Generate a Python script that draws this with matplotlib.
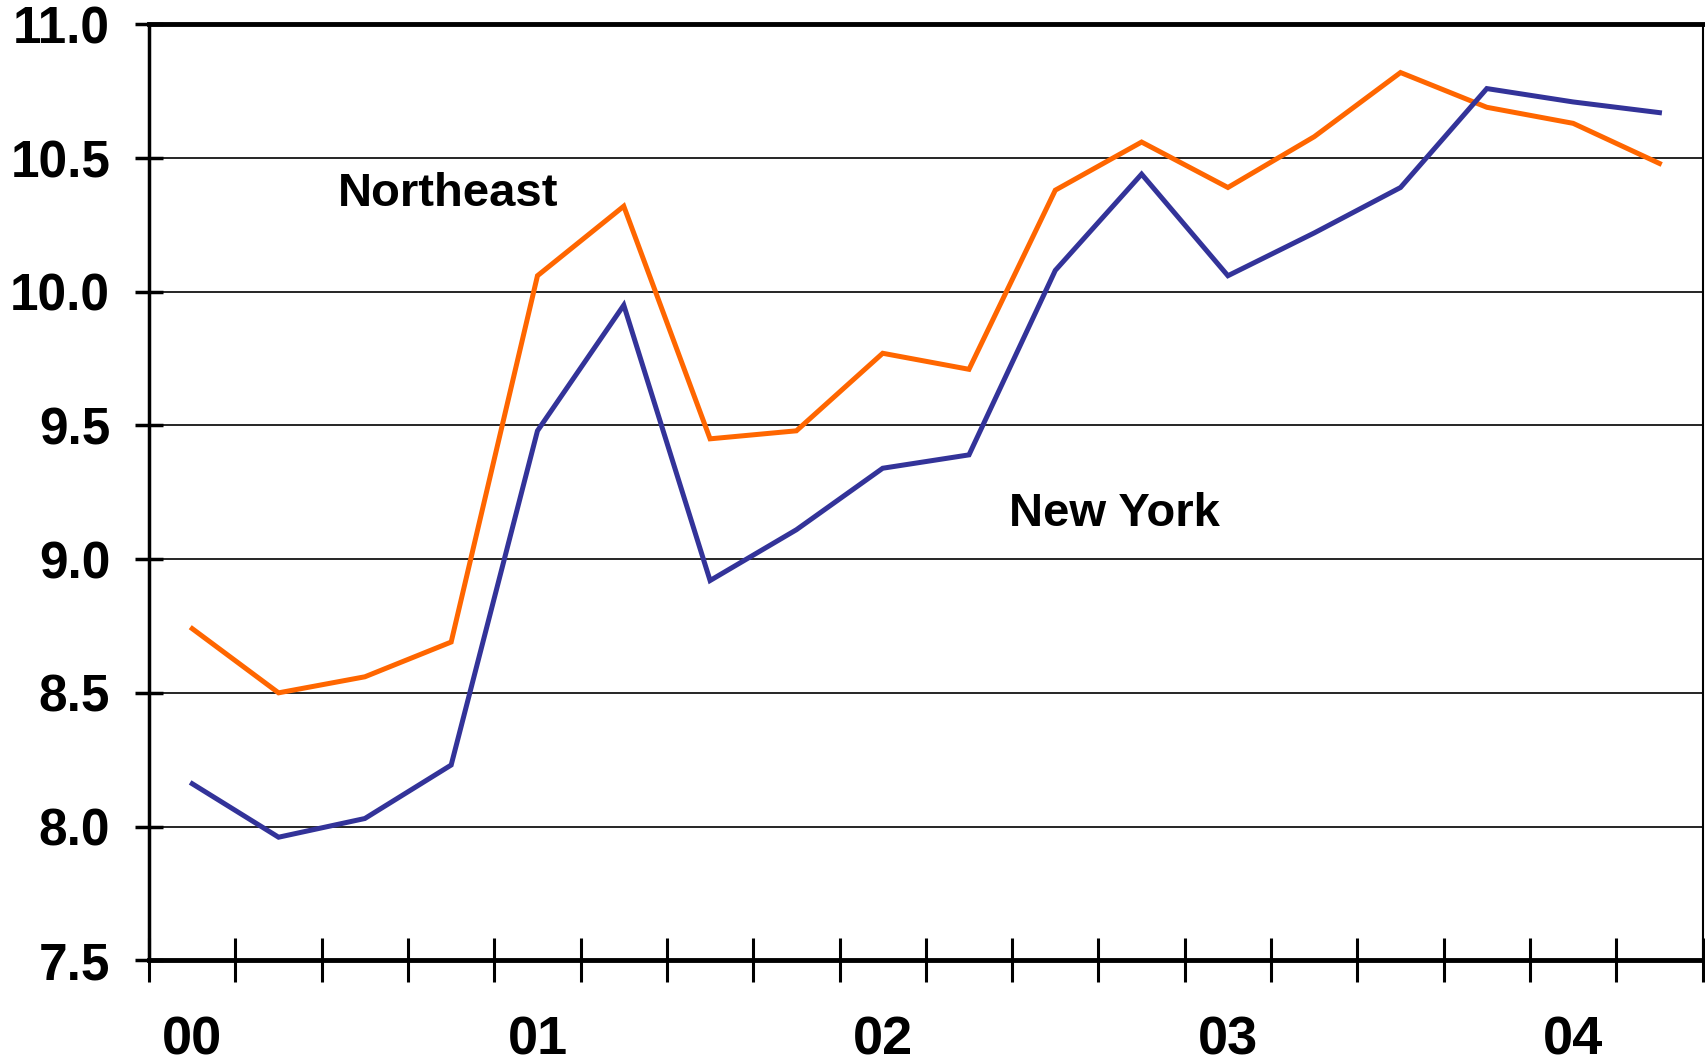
import matplotlib
matplotlib.use("Agg")
import matplotlib.pyplot as plt
import numpy as np

plt.rcParams['font.family'] = ['Liberation Sans', 'DejaVu Sans']
plt.rcParams['font.weight'] = 'bold'

# quarterly values, 2000Q1 .. 2004Q2
quarters = np.arange(18)
northeast = [8.74, 8.50, 8.56, 8.69, 10.06, 10.32, 9.45, 9.48, 9.77, 9.71,
             10.38, 10.56, 10.39, 10.58, 10.82, 10.69, 10.63, 10.48]
new_york = [8.16, 7.96, 8.03, 8.23, 9.48, 9.95, 8.92, 9.11, 9.34, 9.39,
            10.08, 10.44, 10.06, 10.22, 10.39, 10.76, 10.71, 10.67]
year_labels = ['00', '01', '02', '03', '04']
y_ticks = [7.5, 8.0, 8.5, 9.0, 9.5, 10.0, 10.5, 11.0]

fig = plt.figure(figsize=(17.06, 10.61), dpi=100)
ax = fig.add_axes([0.0874, 0.095, 0.9106, 0.882])

ax.plot(quarters, northeast, color='#FF6600', lw=3.6, solid_joinstyle='miter')
ax.plot(quarters, new_york, color='#333399', lw=3.6, solid_joinstyle='miter')

ax.set_xlim(-0.5, 17.5)
ax.set_ylim(7.5, 11.0)

ax.set_yticks(y_ticks, [f'{v:.1f}' for v in y_ticks])
ax.grid(axis='y', color='black', lw=1.2)
ax.set_axisbelow(True)

# quarter tick marks between points, year labels under the first quarter
ax.set_xticks(np.arange(-0.5, 18, 1.0), [])
ax.set_xticks(quarters[::4], year_labels, minor=True)
ax.tick_params(axis='x', which='major', direction='inout', length=32, width=2.2)
ax.tick_params(axis='x', which='minor', length=0, pad=40, labelsize=39)
ax.tick_params(axis='y', direction='inout', length=20, width=2.5, pad=18, labelsize=37)

for side, w in [('top', 3.5), ('left', 2.5), ('bottom', 3.5), ('right', 1.5)]:
    ax.spines[side].set_linewidth(w)
    ax.spines[side].set_color('black')

ax.text(2.96, 10.365, 'Northeast', fontsize=34, fontweight='bold', ha='center', va='center')
ax.text(10.69, 9.17, 'New York', fontsize=34, fontweight='bold', ha='center', va='center')

fig.savefig('out.png', dpi=100)
